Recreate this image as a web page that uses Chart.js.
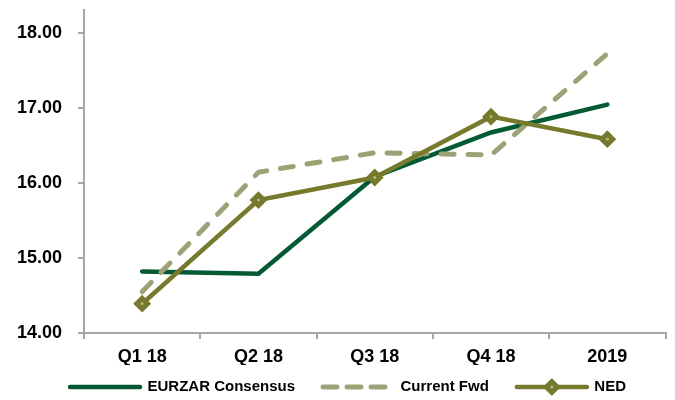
<!DOCTYPE html>
<html>
<head>
<meta charset="utf-8">
<script src="https://cdn.jsdelivr.net/npm/chart.js@4/dist/chart.umd.min.js"></script>
<style>
html, body { margin: 0; padding: 0; background: #fff; }
#wrap { width: 675px; height: 400px; }
</style>
</head>
<body>
<div id="wrap"><canvas id="fxChart"></canvas></div>
<script>
// values
const periods = ['Q1 18', 'Q2 18', 'Q3 18', 'Q4 18', '2019'];
const consensusData = [14.82, 14.79, 16.08, 16.67, 17.04];
const currentFwdData = [14.55, 16.14, 16.40, 16.37, 17.72];
const nedData = [14.39, 15.77, 16.07, 16.88, 16.58];
const yTicks = [14, 15, 16, 17, 18];

const consensusColor = '#035a34';
const fwdColor = '#9ca276';
const nedColor = '#767a2c';
const axisColor = '#a6a6a6';
const fontFamily = '"Liberation Sans", Arial, sans-serif';

// nudge the legend to where it sits in the reference
const legendShift = {
    id: 'legendShift',
    afterLayout(chart) {
        const lg = chart.legend;
        lg.left += 8; lg.right += 8;
        lg.top -= 13.5; lg.bottom -= 13.5;
    }
};

// diamond on the NED legend line + small light dot in the markers
const nedMarks = {
    id: 'nedMarks',
    afterDraw(chart) {
        const ctx = chart.ctx;
        const meta = chart.getDatasetMeta(2);
        ctx.save();
        ctx.fillStyle = '#b9bb8c';
        meta.data.forEach(pt => {
            ctx.beginPath();
            ctx.arc(pt.x, pt.y, 1.4, 0, Math.PI * 2);
            ctx.fill();
        });
        const box = chart.legend.legendHitBoxes[2];
        if (box) {
            const cx = box.left + 35;
            const cy = box.top + box.height / 2;
            const r = 7.5;
            ctx.beginPath();
            ctx.moveTo(cx, cy - r);
            ctx.lineTo(cx + r, cy);
            ctx.lineTo(cx, cy + r);
            ctx.lineTo(cx - r, cy);
            ctx.closePath();
            ctx.fillStyle = nedColor;
            ctx.strokeStyle = nedColor;
            ctx.lineWidth = 2;
            ctx.lineJoin = 'round';
            ctx.fill();
            ctx.stroke();
            ctx.fillStyle = '#b9bb8c';
            ctx.beginPath();
            ctx.arc(cx, cy, 1.4, 0, Math.PI * 2);
            ctx.fill();
        }
        ctx.restore();
    }
};

new Chart(document.getElementById('fxChart'), {
    type: 'line',
    data: {
        labels: periods,
        datasets: [
            {
                label: 'EURZAR Consensus',
                data: consensusData,
                borderColor: consensusColor,
                backgroundColor: consensusColor,
                borderWidth: 4.5,
                borderCapStyle: 'round',
                pointRadius: 0,
                tension: 0,
                order: 3
            },
            {
                label: 'Current Fwd',
                data: currentFwdData,
                borderColor: fwdColor,
                backgroundColor: fwdColor,
                borderWidth: 5,
                borderDash: [13, 14],
                borderCapStyle: 'round',
                pointRadius: 0,
                tension: 0,
                order: 2
            },
            {
                label: 'NED',
                data: nedData,
                borderColor: nedColor,
                backgroundColor: nedColor,
                borderWidth: 4.5,
                borderCapStyle: 'round',
                pointStyle: 'rectRot',
                pointRadius: 7.5,
                pointBorderWidth: 2,
                pointBackgroundColor: nedColor,
                pointBorderColor: nedColor,
                tension: 0,
                order: 1
            }
        ]
    },
    options: {
        responsive: true,
        maintainAspectRatio: false,
        animation: false,
        layout: { padding: { top: 10, right: 9, left: 14, bottom: -18 } },
        plugins: {
            tooltip: { enabled: false },
            legend: {
                position: 'bottom',
                labels: {
                    usePointStyle: true,
                    pointStyleWidth: 70,
                    padding: 28,
                    color: '#000',
                    font: { family: fontFamily, size: 15, weight: 'bold' },
                    sort: (a, b) => a.datasetIndex - b.datasetIndex,
                    generateLabels: chart => {
                        const items = Chart.defaults.plugins.legend.labels.generateLabels(chart);
                        items.forEach(it => {
                            const ds = chart.data.datasets[it.datasetIndex];
                            it.pointStyle = 'line';
                            it.lineWidth = ds.borderWidth;
                            it.lineDash = ds.borderDash ? [14, 10] : [];
                            it.lineCap = 'round';
                            it.strokeStyle = ds.borderColor;
                        });
                        return items;
                    }
                }
            }
        },
        scales: {
            x: {
                offset: true,
                afterFit: scale => { scale.height = 32; },
                grid: {
                    offset: true,
                    drawOnChartArea: false,
                    tickLength: 6,
                    color: axisColor,
                    lineWidth: 2
                },
                border: { color: axisColor, width: 2 },
                ticks: {
                    padding: 7,
                    color: '#000',
                    font: { family: fontFamily, size: 18, weight: 'bold' }
                }
            },
            y: {
                min: 14,
                max: 18.3,
                afterBuildTicks: scale => {
                    scale.ticks = yTicks.map(v => ({ value: v }));
                },
                afterFit: scale => {
                    scale.width = 70;
                    scale.paddingTop = 0;
                    scale.paddingBottom = 0;
                },
                grid: {
                    drawOnChartArea: false,
                    tickLength: 6,
                    color: axisColor,
                    lineWidth: 2
                },
                border: { color: axisColor, width: 2 },
                ticks: {
                    padding: 16,
                    color: '#000',
                    font: { family: fontFamily, size: 18, weight: 'bold' },
                    callback: v => Number(v).toFixed(2)
                }
            }
        }
    },
    plugins: [legendShift, nedMarks]
});
</script>
</body>
</html>
